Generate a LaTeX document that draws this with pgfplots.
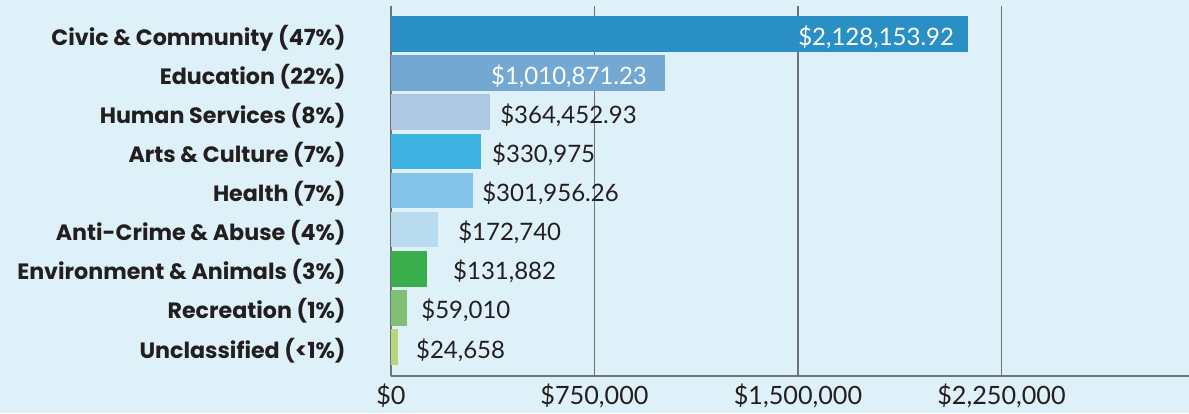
\documentclass[border=0pt]{standalone}
\usepackage{pgfplots}
\pgfplotsset{compat=1.18}
\usepackage{fontspec}
\setmainfont{Lato}
\newfontfamily\catfont{Poppins}
\newfontfamily\valfont{Lato}
\definecolor{bg}{HTML}{DFF1F8}
\definecolor{gridc}{HTML}{6E7378}
\definecolor{txt}{HTML}{231F20}
\definecolor{c1}{HTML}{2A8FC5}
\definecolor{c2}{HTML}{72A8D2}
\definecolor{c3}{HTML}{AEC8E3}
\definecolor{c4}{HTML}{3EB3E2}
\definecolor{c5}{HTML}{82C4E8}
\definecolor{c6}{HTML}{B9DBF0}
\definecolor{c7}{HTML}{3AAE4A}
\definecolor{c8}{HTML}{7FBF78}
\definecolor{c9}{HTML}{B7D77A}
\pgfplotsset{
  inlbl/.style={nodes near coords, point meta=explicit symbolic,
    every node near coord/.append style={anchor=base east, inner sep=0pt, xshift=-#1, yshift=-5.5pt, text=white, font=\valfont\fontsize{12}{14}\selectfont}},
  outlbl/.style={nodes near coords, point meta=explicit symbolic,
    every node near coord/.append style={anchor=base west, inner sep=0pt, xshift=#1, yshift=-5.5pt, text=txt, font=\valfont\fontsize{12}{14}\selectfont}},
}
\begin{document}
\begin{tikzpicture}
\fill[bg] (-195.5pt,-18.5pt) rectangle (399pt,188pt);
\begin{axis}[at={(0,0)}, anchor=south west, scale only axis,
  width=399pt, height=185pt,
  xbar, bar width=17.8pt, bar shift=0pt,
  xmin=0, xmax=2941000, ymin=-0.74, ymax=8.716,
  scaled x ticks=false,
  axis x line*=bottom, axis y line*=left,
  axis line style={-, draw=gridc, line width=0.65pt},
  xmajorgrids, major grid style={draw=gridc, line width=0.65pt},
  xtick={0,750000,1500000,2250000},
  xticklabels={{\$0},{\$750,000},{\$1,500,000},{\$2,250,000}},
  ytick={0,1,2,3,4,5,6,7,8},
  yticklabels={{Unclassified (<1\%)},{Recreation (1\%)},{Environment \& Animals (3\%)},{Anti-Crime \& Abuse (4\%)},{Health (7\%)},{Arts \& Culture (7\%)},{Human Services (8\%)},{Education (22\%)},{Civic \& Community (47\%)}},
  major tick length=0pt,
  yticklabel style={font=\catfont\bfseries\fontsize{11.1}{13}\selectfont, text=txt, anchor=base east, inner sep=0pt, xshift=-22.5pt, yshift=-5.5pt},
  xticklabel style={font=\valfont\fontsize{12.6}{14}\selectfont, text=txt, anchor=base, inner sep=0pt, yshift=-14.4pt},
  clip=false,
]
\addplot[fill=c1, draw=none, inlbl=7pt] coordinates {(2128153.92,8) [{\$2,128,153.92}]};
\addplot[fill=c2, draw=none, inlbl=9pt] coordinates {(1010871.23,7) [{\$1,010,871.23}]};
\addplot[fill=c3, draw=none, outlbl=5pt] coordinates {(364452.93,6) [{\$364,452.93}]};
\addplot[fill=c4, draw=none, outlbl=5.5pt] coordinates {(330975,5) [{\$330,975}]};
\addplot[fill=c5, draw=none, outlbl=4.5pt] coordinates {(301956.26,4) [{\$301,956.26}]};
\addplot[fill=c6, draw=none, outlbl=10pt] coordinates {(172740,3) [{\$172,740}]};
\addplot[fill=c7, draw=none, outlbl=13pt] coordinates {(131882,2) [{\$131,882}]};
\addplot[fill=c8, draw=none, outlbl=7pt] coordinates {(59010,1) [{\$59,010}]};
\addplot[fill=c9, draw=none, outlbl=9pt] coordinates {(24658,0) [{\$24,658}]};
\end{axis}
\pgfresetboundingbox
\useasboundingbox (-195.5pt,-18.5pt) rectangle (399pt,188pt);
\end{tikzpicture}
\end{document}
